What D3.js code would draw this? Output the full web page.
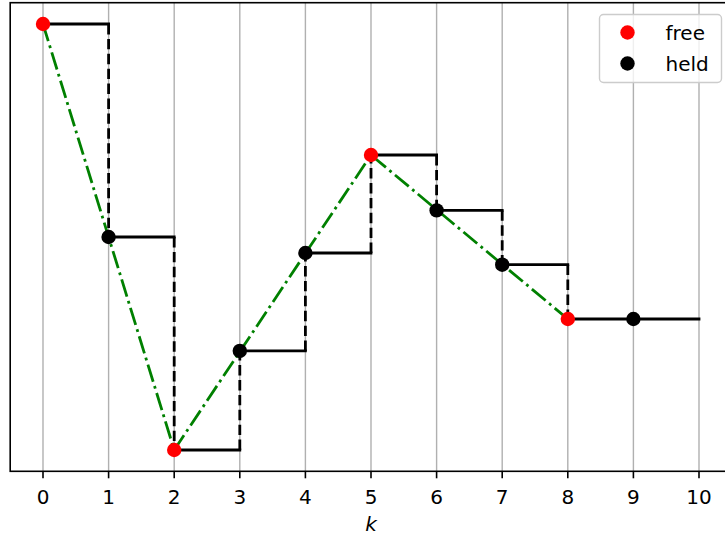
<!DOCTYPE html>
<html>
<head>
<meta charset="utf-8">
<script src="https://cdn.jsdelivr.net/npm/d3@7/dist/d3.min.js"></script>
<style>
  html, body { margin: 0; padding: 0; background: #fff; }
  svg { display: block; font-family: "DejaVu Sans", sans-serif; }
</style>
</head>
<body>
<div id="chart"></div>
<script>
// ---- data ----
const xTicks = [0, 1, 2, 3, 4, 5, 6, 7, 8, 9, 10];
const freeK = [0, 2, 5, 8];
const freeVals = [4.0, 0.0, 2.77, 1.23];
const heldK = [1, 3, 4, 6, 7, 9];
const heldVals = [2.0, 0.93, 1.85, 2.25, 1.74, 1.23];
const legendLabels = ["free", "held"];
const xLabel = "k";

(function () {
// ---- layout ----
const W = 725, H = 535;
const pL = 10.2, pR = 731.8, pT = 2.7, pB = 471.3;
const FS = 20;

const svg = d3.select("#chart").append("svg").attr("width", W).attr("height", H);

const x = d3.scaleLinear().domain([-0.5, 10.5]).range([pL, pR]);
const y = d3.scaleLinear().domain([-0.2, 4.2]).range([pB, pT]);

// combined series for the hold steps
const all = freeK.map((k, i) => ({k, v: freeVals[i], free: true}))
  .concat(heldK.map((k, i) => ({k, v: heldVals[i], free: false})))
  .sort((a, b) => a.k - b.k);

// grid
svg.append("g").selectAll("line").data(xTicks).join("line")
  .attr("x1", d => x(d)).attr("x2", d => x(d))
  .attr("y1", pT).attr("y2", pB)
  .attr("stroke", "#b0b0b0").attr("stroke-width", 1.4);

// horizontal hold segments
const g = svg.append("g");
g.selectAll("line.h").data(all).join("line").attr("class", "h")
  .attr("x1", d => x(d.k)).attr("x2", d => x(d.k + 1))
  .attr("y1", d => y(d.v)).attr("y2", d => y(d.v))
  .attr("stroke", "#000").attr("stroke-width", 2.8).attr("stroke-linecap", "square");

// vertical dashed jumps
const jumps = all.slice(0, -1).map((d, i) => ({k: all[i + 1].k, v0: d.v, v1: all[i + 1].v}));
g.selectAll("line.v").data(jumps).join("line").attr("class", "v")
  .attr("x1", d => x(d.k)).attr("x2", d => x(d.k))
  .attr("y1", d => y(d.v0)).attr("y2", d => y(d.v1))
  .attr("stroke", "#000").attr("stroke-width", 2.8)
  .attr("stroke-dasharray", "10.4,4.5");

// green dash-dot line through free samples
const line = d3.line().x(d => x(d[0])).y(d => y(d[1]));
svg.append("path")
  .attr("d", line(freeK.map((k, i) => [k, freeVals[i]])))
  .attr("fill", "none").attr("stroke", "#008000").attr("stroke-width", 2.8)
  .attr("stroke-dasharray", "17.9,4.5,2.8,4.5");

// markers
svg.append("g").selectAll("circle").data(heldK.map((k, i) => [k, heldVals[i]])).join("circle")
  .attr("cx", d => x(d[0])).attr("cy", d => y(d[1])).attr("r", 7.2).attr("fill", "#000");
svg.append("g").selectAll("circle").data(freeK.map((k, i) => [k, freeVals[i]])).join("circle")
  .attr("cx", d => x(d[0])).attr("cy", d => y(d[1])).attr("r", 7.2).attr("fill", "#ff0000");

// spines
svg.append("rect").attr("x", pL).attr("y", pT)
  .attr("width", pR - pL).attr("height", pB - pT)
  .attr("fill", "none").attr("stroke", "#000").attr("stroke-width", 1.6);

// x axis ticks + labels
const ax = svg.append("g");
ax.selectAll("line").data(xTicks).join("line")
  .attr("x1", d => x(d)).attr("x2", d => x(d))
  .attr("y1", pB).attr("y2", pB + 7)
  .attr("stroke", "#000").attr("stroke-width", 1.6);
ax.selectAll("text").data(xTicks).join("text")
  .attr("x", d => x(d)).attr("y", 503.5)
  .attr("text-anchor", "middle").attr("font-size", FS).attr("fill", "#000")
  .text(d => d);

svg.append("text").attr("x", (pL + pR) / 2).attr("y", 531)
  .attr("text-anchor", "middle").attr("font-size", FS).attr("font-style", "italic")
  .text(xLabel);

// legend
const lg = svg.append("g");
lg.append("rect").attr("x", 599.5).attr("y", 14.5).attr("width", 122).attr("height", 68)
  .attr("rx", 4).attr("fill", "#fff").attr("fill-opacity", 0.8)
  .attr("stroke", "#cccccc").attr("stroke-width", 1.4);
const legColors = ["#ff0000", "#000"];
legendLabels.forEach((lab, i) => {
  const cy = 32.5 + i * 31;
  lg.append("circle").attr("cx", 627.5).attr("cy", cy).attr("r", 7.2).attr("fill", legColors[i]);
  lg.append("text").attr("x", 665.5).attr("y", cy + 7).attr("font-size", FS).text(lab);
});
})();
</script>
</body>
</html>
